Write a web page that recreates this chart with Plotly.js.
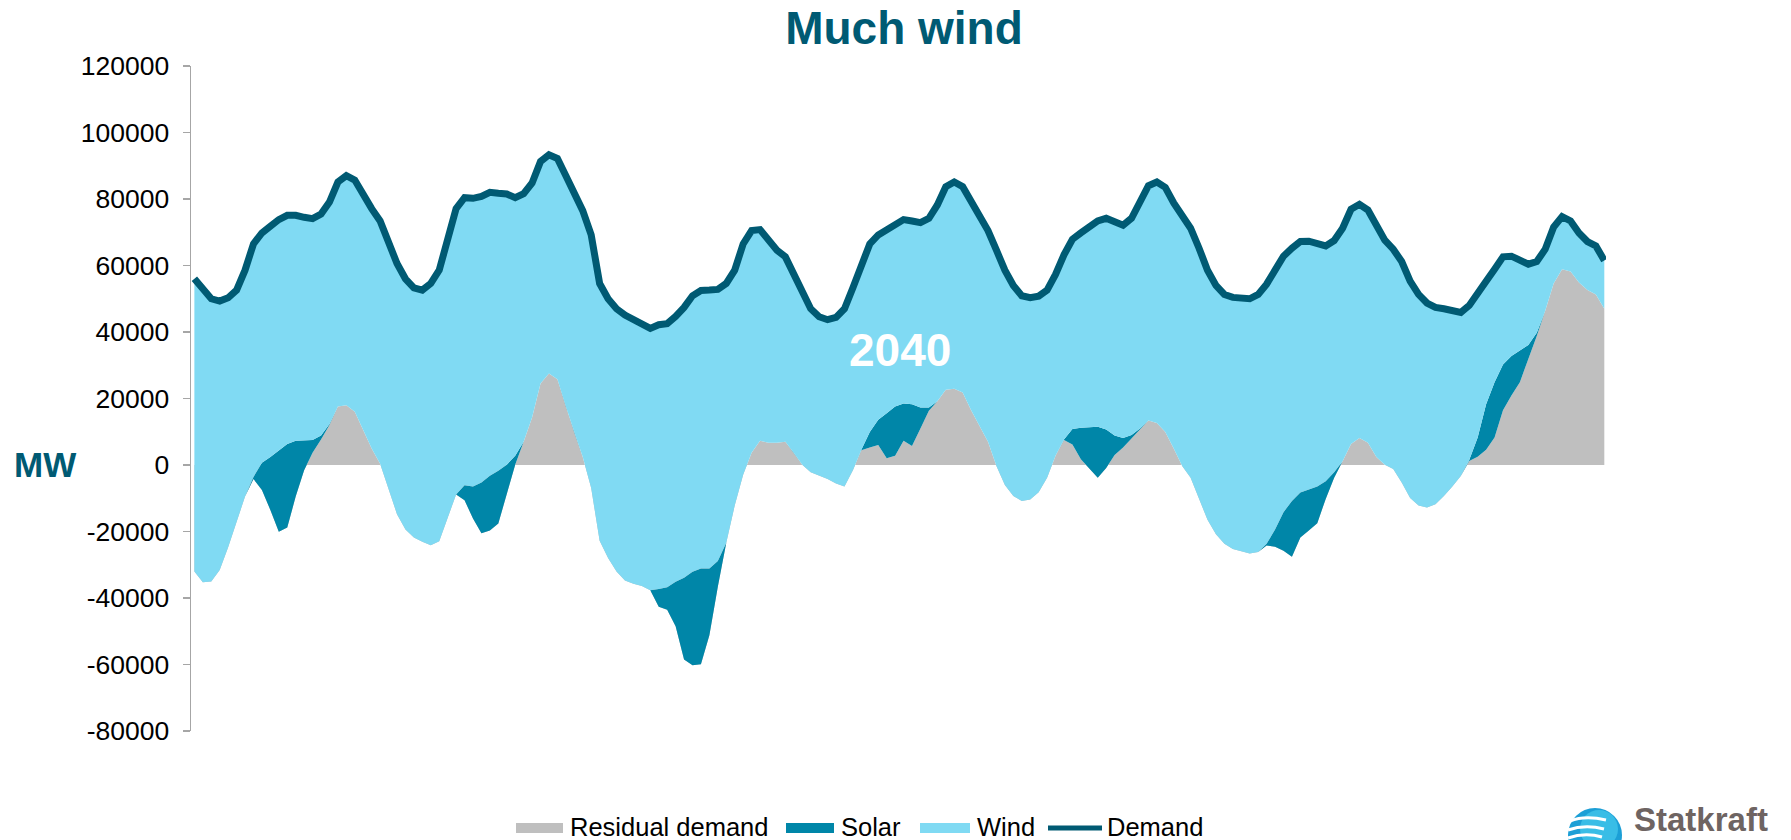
<!DOCTYPE html>
<html>
<head>
<meta charset="utf-8">
<script src="https://cdn.plot.ly/plotly-3.0.1.min.js"></script>
<style>
  html, body { margin: 0; padding: 0; background: #ffffff; }
  #chart { width: 1791px; height: 840px; }
</style>
</head>
<body>
<div id="chart"></div>
<script>
// ---- Data (MW), hourly values over one week ----
const residual = [
  -32000,-35300,-35000,-31600,-24700,-17100,-9500,-4200,-7500,-13500,
  -20100,-18800,-9500,-1600,3700,7700,12000,17600,18000,16000,
  10300,5000,400,-7500,-14800,-19400,-21800,-23100,-24100,-22900,
  -16100,-8900,-10600,-16100,-20500,-19700,-17600,-8900,100,7000,
  14300,24500,27500,25800,17600,9700,2400,-6900,-22800,-28000,
  -32000,-34700,-35700,-36400,-37700,-42600,-43500,-48500,-58500,-60200,
  -59900,-51200,-36600,-23400,-12200,-2900,3700,7300,6700,6700,
  7000,3700,100,-2200,-3300,-4200,-5600,-6500,-1600,4400,
  5300,6000,2000,2800,7300,5700,11000,16300,19200,22600,
  22900,21800,16500,11900,7000,-300,-6000,-9300,-10800,-10400,
  -8200,-3800,2800,7500,6200,1700,-1200,-3800,-900,3000,
  5300,8000,11000,13400,12600,9900,5000,-300,-3800,-10200,
  -16500,-20800,-23700,-25300,-25900,-26600,-26200,-24200,-24600,-25800,
  -27600,-21800,-19700,-17500,-10200,-3800,1100,6300,8100,6700,
  2400,100,-1200,-5300,-9900,-12200,-12800,-11800,-9300,-6500,
  -3300,1200,2500,4600,8300,16500,20900,24900,31900,38800,
  46400,54600,58900,58200,54900,52600,51300,47000
];
const solar = [
  0,0,0,0,0,0,0,600,8200,15900,
  24500,25100,16800,8900,3800,1200,300,0,0,0,
  0,0,0,0,0,0,0,0,0,0,
  0,0,4500,9600,15200,16500,15900,9000,2700,0,
  0,0,0,0,0,0,0,0,0,0,
  0,0,0,0,0,5300,6700,13400,24600,28100,
  28800,20100,7700,0,0,0,0,0,0,0,
  0,0,0,0,0,0,0,0,0,200,
  4600,7600,13600,14800,11200,12600,6300,1000,0,0,
  0,0,0,0,0,0,0,0,0,0,
  0,0,0,200,4600,9500,12600,15300,11600,5900,
  2800,1000,0,0,0,0,0,0,0,0,
  0,0,0,0,0,0,0,500,5200,11600,
  16800,13500,12300,11000,5300,1600,0,0,0,0,
  0,0,0,0,0,0,0,0,0,0,
  0,300,5800,13700,16600,13700,11900,9600,4200,1000,
  0,0,0,0,0,0,0,0
];
const wind = [
  88000,87900,85000,80900,75000,69700,68100,70100,69100,69400,
  69400,68800,67800,67200,66600,66600,66800,67500,69000,69700,
  70800,72100,73000,74000,75400,75400,75100,75700,78700,81500,
  84000,86000,86500,86700,86100,85200,83400,81400,77600,74600,
  70500,66800,65800,66400,69400,72000,74100,76100,77400,78000,
  79000,79800,79500,78900,78800,79500,79300,79800,81300,83000,
  83600,83700,81700,78000,70800,69400,66800,63500,60900,57900,
  55600,53600,51200,49200,47900,47900,50000,53500,54900,56000,
  56600,55600,55200,54900,55300,55100,55600,56900,59000,61100,
  62200,61900,62600,62800,63500,64900,64600,63300,61700,60700,
  59000,56400,54500,55500,57100,58600,60200,61900,63500,64500,
  64000,65200,68100,70600,72500,73600,73800,74800,75000,75400,
  75100,74800,75000,75700,76200,76600,77500,78100,78000,77000,
  76000,75500,74700,73000,70800,69700,70100,70600,70300,70000,
  69200,67500,66100,66500,65200,63500,61500,59200,56300,52900,
  49200,46500,43000,37000,34000,32400,30000,27000,24300,21400,
  18500,17000,15800,15200,14900,14600,14600,14500
];
const demand = [
  56000,52600,50000,49300,50300,52600,58600,66500,69800,71800,
  73800,75100,75100,74500,74100,75500,79100,85100,87000,85700,
  81100,77100,73400,66500,60600,56000,53300,52600,54600,58600,
  67900,77100,80400,80200,80800,82000,81700,81500,80400,81600,
  84800,91300,93300,92200,87000,81700,76500,69200,54600,50000,
  47000,45100,43800,42500,41100,42200,42500,44700,47400,50900,
  52500,52600,52800,54600,58600,66500,70500,70800,67600,64600,
  62600,57300,51300,47000,44600,43700,44400,47000,53300,60600,
  66500,69200,70800,72500,73800,73400,72900,74200,78200,83700,
  85100,83700,79100,74700,70500,64600,58600,54000,50900,50300,
  50800,52600,57300,63200,67900,69800,71600,73400,74200,73400,
  72100,74200,79100,84000,85100,83500,78800,74500,71200,65200,
  58600,54000,51300,50400,50300,50000,51300,54400,58600,62800,
  65200,67200,67300,66500,65900,67500,71200,76900,78400,76700,
  71600,67600,64900,61200,55300,51300,48700,47400,47000,46400,
  45900,48000,51300,55300,58900,62600,62800,61500,60400,61200,
  64900,71600,74700,73400,69800,67200,65900,61500
];
const seriesNames = ['Residual demand', 'Solar', 'Wind', 'Demand'];
const yTickVals = [120000, 100000, 80000, 60000, 40000, 20000, 0, -20000, -40000, -60000, -80000];
const yTickText = ['120000', '100000', '80000', '60000', '40000', '20000', '0', '-20000', '-40000', '-60000', '-80000'];

// ---- Stacking (Residual -> Solar -> Wind) ----
const hours = residual.map((_, i) => i);
const solarTop = residual.map((r, i) => r + solar[i]);
const windTop = solarTop.map((s, i) => s + wind[i]);

const C = {
  residual: '#BFBFBF',
  solar: '#0086A8',
  wind: '#80DAF3',
  demand: '#005A73',
  title: '#005A73'
};
const FONT = 'Liberation Sans, Arial, sans-serif';

const traces = [
  { x: hours, y: residual, name: seriesNames[0], type: 'scatter', mode: 'lines',
    fill: 'tozeroy', fillcolor: C.residual, line: { width: 0, color: C.residual }, hoverinfo: 'skip' },
  // helper so the next band fills from the residual line (draw order residual -> solar -> wind)
  { x: hours, y: residual, type: 'scatter', mode: 'lines', showlegend: false,
    line: { width: 0, color: C.residual }, hoverinfo: 'skip' },
  { x: hours, y: solarTop, name: seriesNames[1], type: 'scatter', mode: 'lines',
    fill: 'tonexty', fillcolor: C.solar, line: { width: 0, color: C.solar }, hoverinfo: 'skip' },
  { x: hours, y: windTop, name: seriesNames[2], type: 'scatter', mode: 'lines',
    fill: 'tonexty', fillcolor: C.wind, line: { width: 0, color: C.wind }, hoverinfo: 'skip' },
  { x: hours, y: demand, name: seriesNames[3], type: 'scatter', mode: 'lines',
    line: { width: 7, color: C.demand, shape: 'linear' }, hoverinfo: 'skip' }
];

// plot area: x 191..1606 px, y 66..731 px
const L = 191, R = 1606, T = 66, B = 731;
const px = v => (v - L) / (R - L);
const py = v => (B - v) / (B - T);

// ---- legend (drawn as swatches + text, matching the Excel look) ----
const legendItems = [
  { name: seriesNames[0], kind: 'rect', color: C.residual, x0: 516, x1: 563, tx: 568 },
  { name: seriesNames[1], kind: 'rect', color: C.solar, x0: 786, x1: 834, tx: 839 },
  { name: seriesNames[2], kind: 'rect', color: C.wind, x0: 920, x1: 970, tx: 975 },
  { name: seriesNames[3], kind: 'line', color: C.demand, x0: 1048, x1: 1102, tx: 1105 }
];
const legY = 828;
const legendShapes = legendItems.map(it => it.kind === 'rect'
  ? { type: 'rect', xref: 'paper', yref: 'paper', x0: px(it.x0), x1: px(it.x1),
      y0: py(legY + 5), y1: py(legY - 5), fillcolor: it.color, line: { width: 0 } }
  : { type: 'line', xref: 'paper', yref: 'paper', x0: px(it.x0), x1: px(it.x1),
      y0: py(legY), y1: py(legY), line: { color: it.color, width: 5 } });
const legendTexts = legendItems.map(it => ({
  text: it.name, xref: 'paper', yref: 'paper', x: px(it.tx), y: py(legY - 1),
  xanchor: 'left', yanchor: 'middle', showarrow: false,
  font: { size: 25.5, color: '#000000', family: FONT }
}));

const layout = {
  width: 1791, height: 840,
  paper_bgcolor: '#ffffff', plot_bgcolor: '#ffffff',
  margin: { l: L, r: 1791 - R, t: T, b: 840 - B, pad: 0 },
  font: { family: FONT, color: '#000000' },
  title: {
    text: '<b>Much wind</b>',
    font: { family: FONT, size: 46, color: C.title },
    xref: 'container', yref: 'container', x: 904 / 1791, xanchor: 'center',
    y: 1 - 28 / 840, yanchor: 'middle'
  },
  showlegend: false,
  xaxis: {
    range: [-0.4, 167.2], visible: false, showgrid: false, zeroline: false, fixedrange: true
  },
  yaxis: {
    range: [-80000, 120000], tickvals: yTickVals, ticktext: yTickText,
    showgrid: false, zeroline: false, showline: true, linecolor: '#A6A6A6', linewidth: 1.5,
    ticks: 'outside', ticklen: 7, tickcolor: '#A6A6A6', tickwidth: 1.5,
    ticklabelstandoff: 8,
    tickfont: { size: 26.5, color: '#000000', family: FONT },
    fixedrange: true
  },
  annotations: [
    { text: '<b>MW</b>', xref: 'paper', yref: 'paper', x: px(45), y: py(464),
      xanchor: 'center', yanchor: 'middle', showarrow: false,
      font: { size: 35, color: C.title, family: FONT } },
    { text: '<b>2040</b>', xref: 'paper', yref: 'paper', x: px(900), y: py(350),
      xanchor: 'center', yanchor: 'middle', showarrow: false,
      font: { size: 46, color: '#ffffff', family: FONT } },
    { text: '<b>Statkraft</b>', xref: 'paper', yref: 'paper', x: px(1632), y: py(840),
      xanchor: 'left', yanchor: 'bottom', showarrow: false,
      font: { size: 33, color: '#6E6462', family: FONT } }
  ].concat(legendTexts),
  shapes: [
    { type: 'circle', xref: 'paper', yref: 'paper', layer: 'above',
      x0: px(1568), x1: px(1622), y0: py(808), y1: py(862),
      fillcolor: '#1C9FD6', line: { width: 0 } },
    { type: 'circle', xref: 'paper', yref: 'paper', layer: 'above',
      x0: px(1580), x1: px(1618), y0: py(810), y1: py(848),
      fillcolor: '#39BDE6', line: { width: 0 } },
    { type: 'path', xref: 'paper', yref: 'paper', layer: 'above',
      path: 'M ' + px(1570) + ',' + py(821) + ' Q ' + px(1585) + ',' + py(815) + ' ' + px(1606) + ',' + py(820),
      line: { color: '#ffffff', width: 3 } },
    { type: 'path', xref: 'paper', yref: 'paper', layer: 'above',
      path: 'M ' + px(1568) + ',' + py(830) + ' Q ' + px(1585) + ',' + py(824) + ' ' + px(1604) + ',' + py(829),
      line: { color: '#ffffff', width: 3 } },
    { type: 'path', xref: 'paper', yref: 'paper', layer: 'above',
      path: 'M ' + px(1568) + ',' + py(838) + ' Q ' + px(1585) + ',' + py(832) + ' ' + px(1602) + ',' + py(837),
      line: { color: '#ffffff', width: 3 } }
  ].concat(legendShapes)
};

Plotly.newPlot('chart', traces, layout, { displayModeBar: false, staticPlot: true });
</script>
</body>
</html>
